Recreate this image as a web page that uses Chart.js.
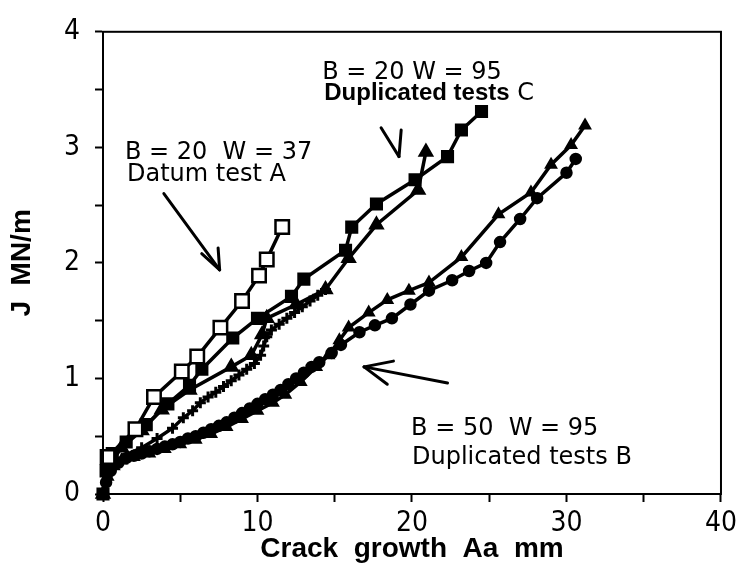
<!DOCTYPE html>
<html lang="en">
<head>
<meta charset="UTF-8">
<title>J resistance curves</title>
<script src="https://cdn.jsdelivr.net/npm/chart.js"></script>
<style>
  html, body { margin: 0; padding: 0; background: #fff; }
</style>
</head>
<body>
<canvas id="myChart" width="742" height="583"></canvas>
<script>
// Datum test A, B = 20 W = 37 (open squares)
var aX = [0.3, 2.1, 3.3, 5.1, 6.1, 7.6, 9.0, 10.1, 10.6, 11.6];
var aY = [0.32, 0.56, 0.84, 1.06, 1.19, 1.44, 1.67, 1.89, 2.03, 2.31];

// Duplicated tests C, B = 20 W = 95 (filled squares / filled triangles)
var c1X = [0, 0.2, 0.6, 1.5, 2.8, 4.2, 5.6, 6.4, 8.4, 10.0, 12.2, 13.0, 15.7, 16.1, 17.7, 20.2, 22.3, 23.2, 24.5];
var c1Y = [0, 0.2, 0.35, 0.45, 0.6, 0.78, 0.94, 1.08, 1.35, 1.52, 1.71, 1.86, 2.11, 2.31, 2.51, 2.72, 2.92, 3.15, 3.31];
var c2X = [0, 0.4, 1.2, 2.5, 3.8, 5.6, 8.3, 9.6, 10.3, 10.6, 12.5, 14.4, 15.9, 17.7, 20.4, 20.9];
var c2Y = [0, 0.25, 0.4, 0.55, 0.73, 0.9, 1.1, 1.2, 1.38, 1.52, 1.64, 1.77, 2.04, 2.33, 2.63, 2.96];

// crosses
var dX = [0, 0.3, 0.8, 1.5, 2.5, 3.5, 4.5, 5.2, 5.8, 6.3, 6.8, 7.3, 7.8, 8.3, 8.8, 9.3, 9.8, 10.2, 10.4, 10.6, 10.9, 11.4, 11.9, 12.4, 12.9, 13.4, 13.9, 14.4];
var dY = [0, 0.18, 0.28, 0.34, 0.4, 0.48, 0.57, 0.66, 0.72, 0.79, 0.84, 0.88, 0.93, 0.98, 1.03, 1.08, 1.13, 1.2, 1.28, 1.36, 1.42, 1.47, 1.52, 1.57, 1.62, 1.67, 1.72, 1.77];

// Duplicated tests B, B = 50 W = 95 (filled circles / filled triangles)
var b1X = [0, 0.2, 0.5, 1.0, 1.5, 2.0, 2.5, 3.0, 3.5, 4.0, 4.5, 5.0, 5.5, 6.0, 6.5, 7.0, 7.5, 8.0, 8.5, 9.0, 9.5, 10.0, 10.5, 11.0, 11.5, 12.0, 12.5, 13.0, 13.5, 14.0, 14.8, 15.4, 16.6, 17.6, 18.7, 19.9, 21.1, 22.6, 23.7, 24.8, 25.7, 27.0, 28.1, 30.0, 30.6];
var b1Y = [0, 0.1, 0.2, 0.27, 0.31, 0.33, 0.35, 0.37, 0.39, 0.41, 0.43, 0.45, 0.48, 0.5, 0.53, 0.56, 0.59, 0.62, 0.66, 0.7, 0.74, 0.78, 0.82, 0.86, 0.9, 0.95, 1.0, 1.05, 1.1, 1.14, 1.22, 1.29, 1.4, 1.46, 1.52, 1.64, 1.76, 1.85, 1.93, 2.0, 2.18, 2.38, 2.56, 2.78, 2.9];
var b2X = [0, 0.3, 0.7, 1.2, 2.0, 3.0, 4.0, 5.0, 6.0, 7.0, 8.0, 9.0, 10.0, 11.0, 11.8, 12.8, 13.8, 14.6, 15.3, 15.9, 17.2, 18.4, 19.8, 21.1, 23.2, 25.6, 27.7, 29.0, 30.3, 31.2];
var b2Y = [0, 0.15, 0.24, 0.29, 0.32, 0.35, 0.39, 0.43, 0.47, 0.52, 0.58, 0.65, 0.72, 0.79, 0.86, 0.97, 1.1, 1.2, 1.33, 1.44, 1.57, 1.68, 1.76, 1.83, 2.05, 2.42, 2.61, 2.85, 3.02, 3.19];

var xTicks = [0, 10, 20, 30, 40];
var yTicks = [0, 1, 2, 3, 4];

function pts(xs, ys) {
    return xs.map(function (x, i) { return { x: x, y: ys[i] }; });
}

function series(data, style, radius, fill, pbw) {
    return {
        data: data,
        showLine: true,
        borderColor: '#000',
        borderWidth: 3.5,
        pointStyle: style,
        pointRadius: radius,
        pointBackgroundColor: fill,
        pointBorderColor: '#000',
        pointBorderWidth: pbw || 2.5,
        clip: false
    };
}

// frame, annotations and arrows
var notes = {
    id: 'notes',
    afterDraw: function (chart) {
        var ctx = chart.ctx, a = chart.chartArea;
        var sx = chart.scales.x, sy = chart.scales.y;
        function X(v) { return sx.getPixelForValue(v); }
        function Y(v) { return sy.getPixelForValue(v); }
        ctx.save();
        ctx.strokeStyle = '#000';
        ctx.lineWidth = 2;
        ctx.strokeRect(a.left, a.top, a.right - a.left, a.bottom - a.top);

        ctx.fillStyle = '#000';
        ctx.textBaseline = 'alphabetic';
        ctx.textAlign = 'left';
        var reg = '24px "DejaVu Sans"';
        var bold = 'bold 24px "Liberation Sans"';
        ctx.font = reg;
        ctx.fillText('B = 20  W = 37', X(1.42), Y(2.90));
        ctx.fillText('Datum test A', X(1.55), Y(2.71));
        ctx.fillText('B = 20 W = 95', X(14.19), Y(3.59));
        ctx.fillText('B = 50  W = 95', X(19.94), Y(0.51));
        ctx.fillText('Duplicated tests B', X(20.0), Y(0.26));
        ctx.font = bold;
        ctx.fillText('Duplicated tests', X(14.32), Y(3.41));
        var w = ctx.measureText('Duplicated tests').width;
        ctx.font = reg;
        ctx.fillText(' C', X(14.32) + w, Y(3.41));

        var arrows = [
            [[3.94, 2.60], [7.55, 1.94]], [[7.45, 2.13], [7.55, 1.94]], [[6.39, 2.08], [7.55, 1.94]],
            [[18.0, 3.17], [19.16, 2.92]], [[19.3, 3.15], [19.16, 2.92]],
            [[22.3, 0.96], [16.9, 1.10]], [[18.8, 1.15], [16.9, 1.10]], [[18.4, 0.95], [16.9, 1.10]]
        ];
        ctx.lineWidth = 3;
        ctx.lineCap = 'round';
        arrows.forEach(function (s) {
            ctx.beginPath();
            ctx.moveTo(X(s[0][0]), Y(s[0][1]));
            ctx.lineTo(X(s[1][0]), Y(s[1][1]));
            ctx.stroke();
        });
        ctx.restore();
    }
};

var ctx = document.getElementById('myChart').getContext('2d');
var myChart = new Chart(ctx, {
    type: 'scatter',
    data: {
        datasets: [
            series(pts(aX, aY), 'rect', 9.5, '#fff'),
            series(pts(c1X, c1Y), 'rect', 7.5, '#000'),
            series(pts(c2X, c2Y), 'triangle', 7, '#000'),
            series(pts(dX, dY), 'cross', 5.5, '#000', 3),
            series(pts(b1X, b1Y), 'circle', 5, '#000'),
            series(pts(b2X, b2Y), 'triangle', 5.5, '#000')
        ]
    },
    options: {
        responsive: false,
        animation: false,
        events: [],
        layout: { padding: { top: 16, right: 19, left: 0, bottom: 0 } },
        plugins: { legend: { display: false }, tooltip: { enabled: false } },
        scales: {
            x: {
                min: 0, max: 40,
                ticks: {
                    stepSize: 5,
                    color: '#000',
                    padding: 5,
                    maxRotation: 0,
                    font: { family: '"Liberation Sans Narrow", "DejaVu Sans Condensed", sans-serif', size: 28 },
                    callback: function (v) { return xTicks.indexOf(v) >= 0 ? String(v) : ''; }
                },
                grid: { drawOnChartArea: false, drawTicks: true, tickLength: 8, tickWidth: 2, color: '#000' },
                border: { display: true, color: '#000', width: 2 },
                title: {
                    display: true,
                    text: 'Crack  growth  Aa  mm',
                    color: '#000',
                    font: { family: '"Liberation Sans"', size: 28, weight: 'bold' },
                    padding: { top: 0, bottom: 17 }
                },
                afterFit: function (s) { s.height = 89; }
            },
            y: {
                min: 0, max: 4,
                ticks: {
                    stepSize: 0.5,
                    color: '#000',
                    padding: 15,
                    font: { family: '"Liberation Sans Narrow", "DejaVu Sans Condensed", sans-serif', size: 28 },
                    callback: function (v) { return yTicks.indexOf(v) >= 0 ? String(v) : ''; }
                },
                grid: { drawOnChartArea: false, drawTicks: true, tickLength: 8, tickWidth: 2, color: '#000' },
                border: { display: true, color: '#000', width: 2 },
                title: {
                    display: true,
                    text: 'J  MN/m',
                    color: '#000',
                    font: { family: '"Liberation Sans"', size: 28, weight: 'bold' },
                    padding: { top: 5, bottom: 0 }
                },
                afterFit: function (s) { s.width = 103; }
            }
        }
    },
    plugins: [notes]
});
</script>
</body>
</html>
